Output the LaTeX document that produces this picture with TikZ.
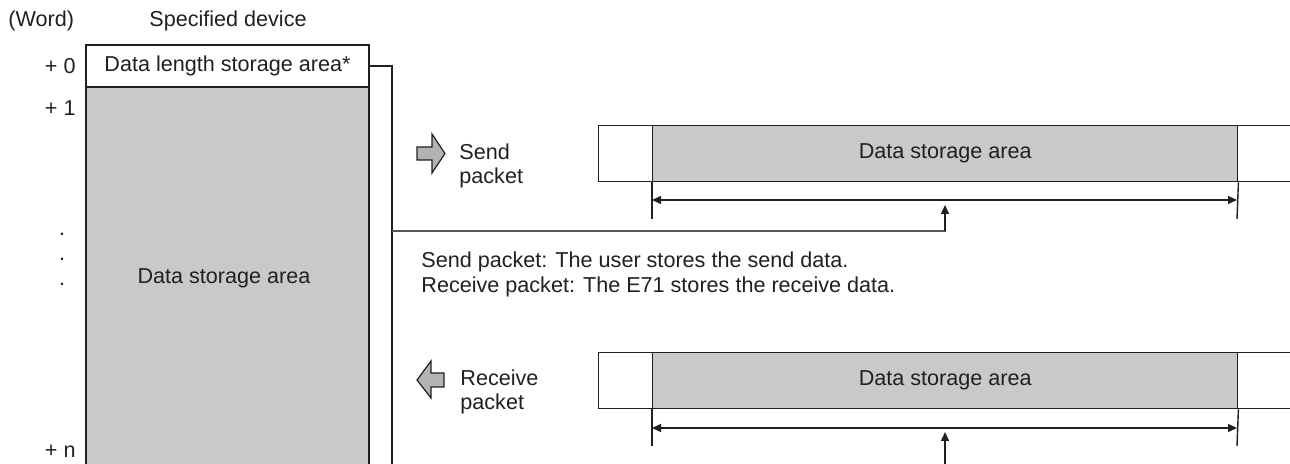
\documentclass[tikz,border=0pt]{standalone}
\usepackage{fontspec}
\setmainfont{Liberation Sans}
\usetikzlibrary{arrows.meta}
\definecolor{ink}{HTML}{231F20}
\definecolor{lgrey}{HTML}{C8C9CB}
\definecolor{agrey}{HTML}{B2B3B5}
\definecolor{cgrey}{HTML}{555555}
\tikzset{
  txt/.style={font=\fontsize{10.8}{13}\selectfont, text=ink, inner sep=0pt},
  cell/.style={draw=ink, line width=0.7pt, inner sep=0pt, minimum height=#1},
  ln/.style={draw=ink, line width=0.7pt},
  conn/.style={draw=cgrey, line width=1pt},
  dim/.style={draw=ink, line width=0.7pt, {Triangle[length=4.5pt,width=4pt]}-{Triangle[length=4.5pt,width=4pt]}},
  upar/.style={draw=ink, line width=0.7pt, -{Triangle[length=4.5pt,width=4pt]}},
  blockarrow/.style={draw=ink, fill=agrey, line width=0.6pt, line join=miter}
}
\begin{document}
\begin{tikzpicture}[x=0.5pt,y=-0.5pt]
\useasboundingbox (0,0) rectangle (1290,464);
\clip (0,0) rectangle (1290,464);
% left column
\node[txt, anchor=west] (word) at (8,21) {(Word)};
\node[txt] (spec) at (228,21) {Specified device};
\fill[lgrey] (86,87) rectangle (369,470);
\node[txt] (len) at (227.5,66) {Data length storage area*};
\coordinate (lenE) at (369,66);
\draw[ln] (86,470) -- (86,45) -- (369,45) -- (369,470);
\draw[ln] (86,87) -- (369,87);
\node[txt] (dsa) at (224,278) {Data storage area};
\node[txt, anchor=east] (p0) at (76,66) {+ 0};
\node[txt, anchor=east] (p1) at (76,108) {+ 1};
\node[txt, anchor=east] (pn) at (76,451) {+ n};
\node[txt] (d1) at (62,234) {.};
\node[txt] (d2) at (62,259) {.};
\node[txt] (d3) at (62,284) {.};
% connector
\coordinate (jt) at (392,66);
\coordinate (j) at (392,231);
\coordinate (jb) at (392,470);
\draw[ln] (lenE) -- (jt) -- (jb);
% send packet icon
\draw[blockarrow] (417,147) -- (432,147) -- (432,134) -- (445,153.5) -- (432,173) -- (432,160) -- (417,160) -- cycle;
\node[txt, anchor=west, align=left] (send) at (459,166) {Send\\[-1pt]packet};
% receive packet icon
\draw[blockarrow] (444,373) -- (431,373) -- (431,361) -- (417,380) -- (431,398) -- (431,387) -- (444,387) -- cycle;
\node[txt, anchor=west, align=left] (recv) at (460,392) {Receive\\[-1pt]packet};
% top packet
\node[cell=28pt, minimum width=352pt, anchor=north west] (sbox) at (598,125) {};
\node[cell=28pt, fill=lgrey, minimum width=292.5pt, anchor=north west, txt] (sdata) at (652,125) {Data storage area};
\draw[ln] (sdata.south west) -- (652,219);
\draw[ln] (sdata.south east) -- (1237,219);
\coordinate (sl) at (652,200);
\coordinate (sr) at (1237,200);
\draw[dim] (sl) -- (sr);
\coordinate (stip) at (945,205);
\draw[conn] (j) -| (945,220);
\draw[upar] (945,231) -- (stip);
% notes
\node[txt, anchor=west] (n1) at (421,262) {Send packet: The user stores the send data.};
\node[txt, anchor=west] (n2) at (421,287) {Receive packet: The E71 stores the receive data.};
% bottom packet
\node[cell=28pt, minimum width=352pt, anchor=north west] (rbox) at (598,352) {};
\node[cell=28pt, fill=lgrey, minimum width=292.5pt, anchor=north west, txt] (rdata) at (652,352) {Data storage area};
\draw[ln] (rdata.south west) -- (652,446);
\draw[ln] (rdata.south east) -- (1237,446);
\coordinate (rl) at (652,428);
\coordinate (rr) at (1237,428);
\draw[dim] (rl) -- (rr);
\coordinate (rbot) at (945,470);
\coordinate (rtip) at (945,432);
\draw[upar] (rbot) -- (rtip);
\end{tikzpicture}
\end{document}
